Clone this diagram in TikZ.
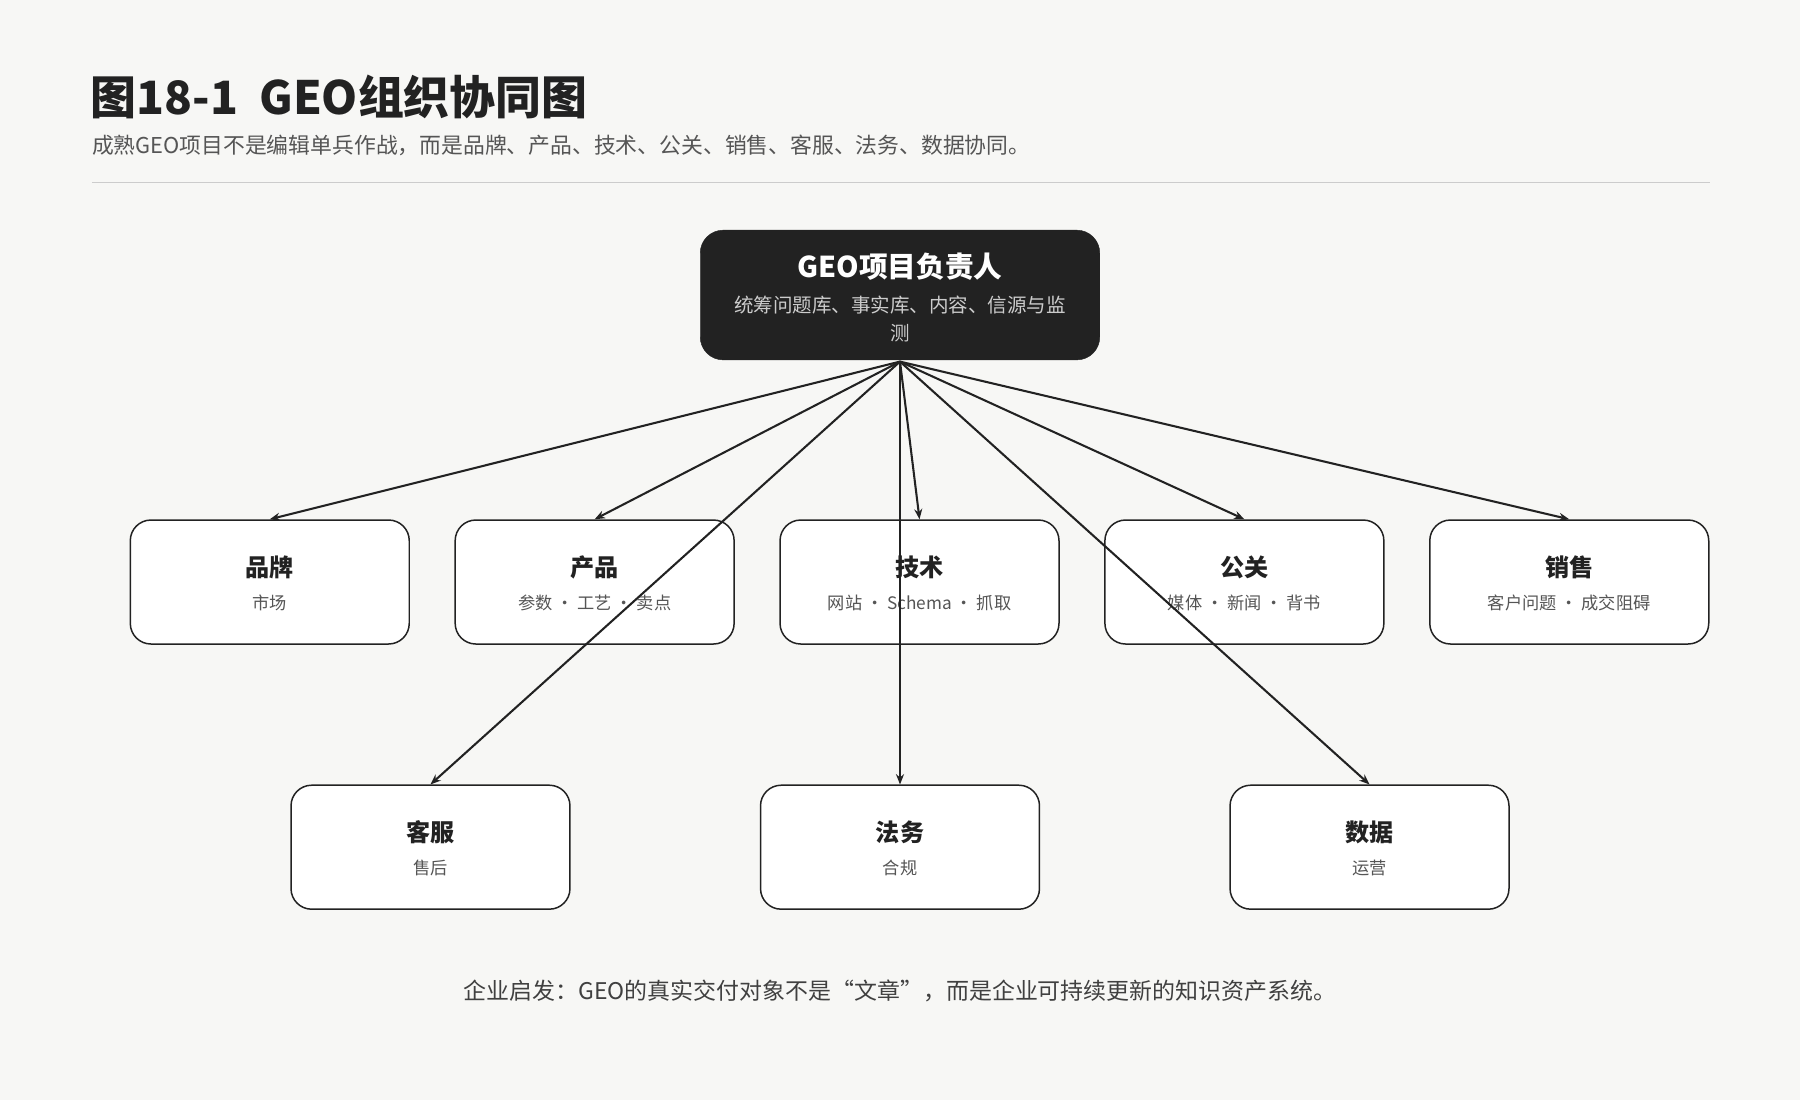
\documentclass[tikz,border=0pt]{standalone}
\usepackage{fontspec}
\setmainfont{Noto Sans CJK SC}
\usetikzlibrary{arrows.meta}
\definecolor{bg}{HTML}{F7F7F5}
\definecolor{dark}{HTML}{222222}
\definecolor{sub}{HTML}{555555}
\begin{document}
\begin{tikzpicture}[x=1pt,y=-1pt,
  box/.style={draw=dark,line width=1.3pt,fill=white,rounded corners=18pt,minimum width=243pt,minimum height=108pt},
  ttl/.style={font=\fontsize{21}{24}\selectfont\bfseries,text=dark},
  st/.style={font=\fontsize{15}{18}\selectfont,text=sub},
  arr/.style={draw=dark,line width=1.8pt,-{Stealth[length=9pt,width=7pt]}}]
\fill[bg] (0,0) rectangle (1568,958);
\useasboundingbox (0,0) rectangle (1568,958);
\node[anchor=base west,font=\fontsize{40}{44}\selectfont\bfseries,text=dark,inner sep=0] (title) at (79,100) {图18-1\ \ GEO组织协同图};
\node[anchor=base west,font=\fontsize{19}{22}\selectfont,text=sub,inner sep=0] (subtitle) at (80,134) {成熟GEO项目不是编辑单兵作战，而是品牌、产品、技术、公关、销售、客服、法务、数据协同。};
\draw[black!20,line width=1pt] (80,159) -- (1490,159);
\node[draw=dark,fill=dark,rounded corners=20pt,minimum width=348pt,minimum height=113pt] (lead) at (784,257) {};
\node[font=\fontsize{25}{28}\selectfont\bfseries,text=white] (leadt) at (784,232) {GEO项目负责人};
\node[font=\fontsize{17}{24}\selectfont,text=black!20,align=center] (leads) at (784,278) {统筹问题库、事实库、内容、信源与监\\测};
\foreach \n/\x/\y/\t/\s in {a/235/507/品牌/市场/定位 · 策略 · 口径, b/518/507/产品/参数 · 工艺 · 卖点, c/801/507/技术/网站 · Schema · 抓取, d/1084/507/公关/媒体 · 新闻 · 背书, e/1367/507/销售/客户问题 · 成交阻碍, f/375/738/客服/售后/高频疑问 · 政策, g/784/738/法务/合规/极限词 · 竞品边界, h/1193/738/数据/运营/监测 · 复盘 · 看板}{
  \node[box] (\n) at (\x,\y) {};
  \node[ttl] (\n t) at (\x,\y-13) {\t};
  \node[st] (\n s) at (\x,\y+18) {\s};
}
\coordinate (o) at (784,315);
\foreach \n in {a,b,c,d,e,f,g,h}{\draw[arr] (o) -- (\n.north);}
\node[font=\fontsize{20}{24}\selectfont,text=black!75] (foot) at (784,863) {企业启发：GEO的真实交付对象不是“文章”，而是企业可持续更新的知识资产系统。};
\end{tikzpicture}
\end{document}
